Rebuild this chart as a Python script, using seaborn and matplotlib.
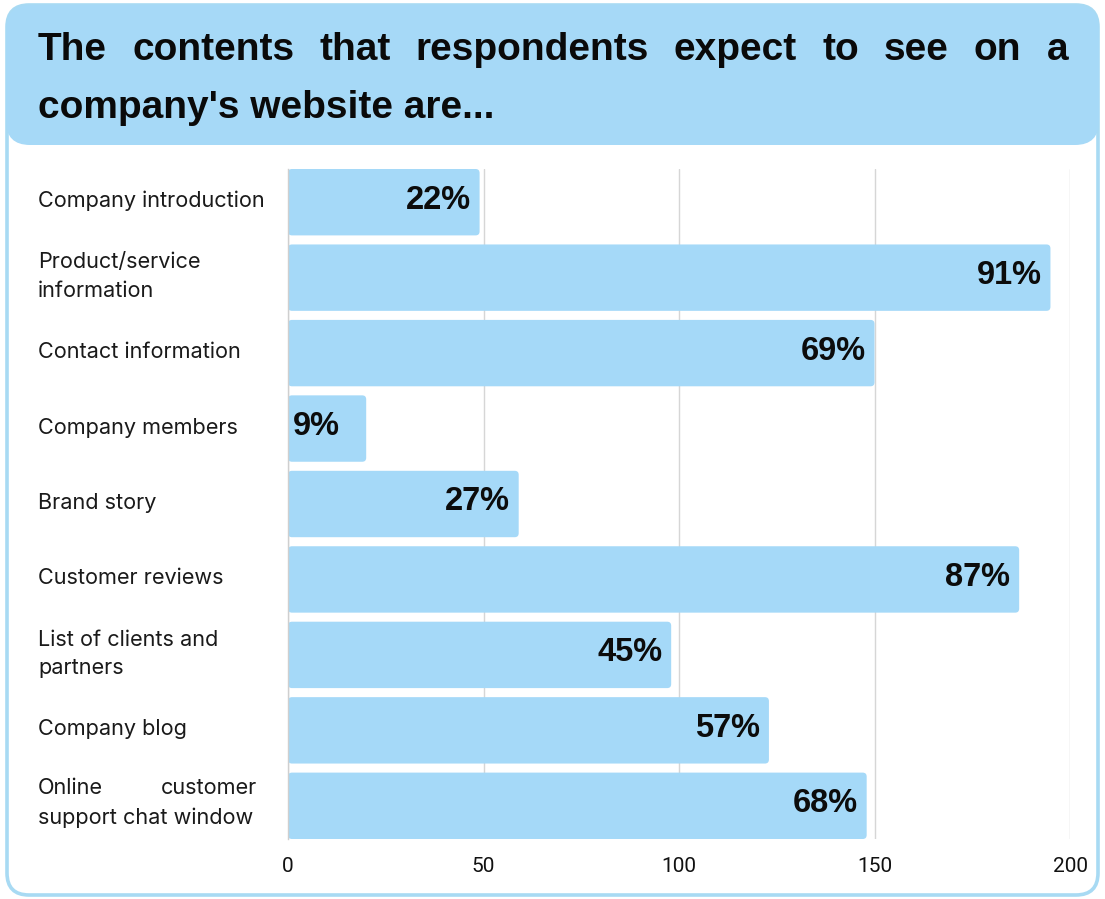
import matplotlib
matplotlib.use("Agg")
import matplotlib.pyplot as plt
import matplotlib.transforms as mtransforms
from matplotlib.patches import FancyBboxPatch
import pandas as pd
import seaborn as sns

# Survey items, respondent counts (bar length) and share labels
items = [
    "Company introduction",
    "Product/service\ninformation",
    "Contact information",
    "Company members",
    "Brand story",
    "Customer reviews",
    "List of clients and\npartners",
    "Company blog",
    "Online customer\nsupport chat window",
]
counts = [49, 195, 150, 20, 59, 187, 98, 123, 148]
shares = ["22%", "91%", "69%", "9%", "27%", "87%", "45%", "57%", "68%"]
x_ticks = [0, 50, 100, 150, 200]
title_lines = ["The contents that respondents expect to see on a",
               "company's website are..."]

BAR = "#A5D9F8"
HEAD = "#A6D9F7"
BORDER = "#A8DAF3"
GRID = "#D6D6D6"

sns.set_theme(style="white")
plt.rcParams["font.family"] = ["Inter", "DejaVu Sans"]

W, H = 1105, 899
fig = plt.figure(figsize=(W / 100, H / 100), dpi=100)
fig.patch.set_facecolor("white")
px = mtransforms.IdentityTransform()

# card outline and header band (pixel coordinates, origin bottom-left)
card = FancyBboxPatch((7, 4), W - 14, H - 9,
                      boxstyle="round,pad=0,rounding_size=22",
                      fc="white", ec=BORDER, lw=2.6, transform=px, zorder=-2)
header = FancyBboxPatch((6, H - 145), W - 12, 140,
                        boxstyle="round,pad=0,rounding_size=24",
                        fc=HEAD, ec="none", transform=px, zorder=-1)
fig.add_artist(card)
fig.add_artist(header)

ax = fig.add_axes([288 / W, (H - 839) / H, 782 / W, 670 / H])
ax.patch.set_visible(False)

df = pd.DataFrame({"item": items, "count": counts})
sns.barplot(data=df, x="count", y="item", orient="h", color=BAR,
            width=0.88, saturation=1, edgecolor="none", ax=ax)

n = len(items)
ax.set_xlim(0, 200)
ax.set_ylim(n - 1 + 0.44, -0.44)
ax.set_xticks(x_ticks)
ax.set_xticklabels([str(t) for t in x_ticks])
ax.set_xlabel("")
ax.set_ylabel("")
ax.set_yticks([])
ax.xaxis.grid(True, color=GRID, lw=1.0)
ax.set_axisbelow(True)
for side in ["top", "right", "bottom"]:
    ax.spines[side].set_visible(False)
ax.spines["left"].set_color("#CFCFCF")
ax.spines["left"].set_linewidth(1.0)
ax.tick_params(axis="x", length=0, pad=13, labelsize=15, labelcolor="#111111")
for t in ax.get_xticklabels():
    t.set_family(["Roboto", "DejaVu Sans"])

# swap plain rectangles for slightly rounded ones
fig.canvas.draw()
x_px = ax.transData.transform((1, 0))[0] - ax.transData.transform((0, 0))[0]
y_px = abs(ax.transData.transform((0, 1))[1] - ax.transData.transform((0, 0))[1])
r_px = 4.0
rs = r_px / x_px
aspect = (r_px / y_px) / rs
for p in list(ax.patches):
    x0, y0, w, h = p.get_x(), p.get_y(), p.get_width(), p.get_height()
    rb = FancyBboxPatch((x0, y0), w, h,
                        boxstyle=f"round,pad=0,rounding_size={rs}",
                        mutation_aspect=aspect, fc=BAR, ec="none",
                        transform=ax.transData, zorder=2)
    p.remove()
    ax.add_patch(rb)

# value labels
val_kw = dict(va="center", fontsize=23.5, fontweight="bold",
              family=["Liberation Sans", "DejaVu Sans"], color="#0c0c0c", zorder=3)
for i, (c, s) in enumerate(zip(counts, shares)):
    if c < 30:
        ax.annotate(s, (0, i), xytext=(5, 2), textcoords="offset pixels",
                    ha="left", **val_kw)
    else:
        ax.annotate(s, (c, i), xytext=(-9, 2), textcoords="offset pixels",
                    ha="right", **val_kw)

renderer = fig.canvas.get_renderer()


def justified(words, x0, x1, y, transform, **kw):
    """Place words so the line spans exactly x0..x1 (pixel x)."""
    arts = [fig.text(0, 0, w_, transform=transform, **kw) for w_ in words]
    widths = [a.get_window_extent(renderer).width for a in arts]
    gap = (x1 - x0 - sum(widths)) / (len(words) - 1)
    x = x0
    for a, wd in zip(arts, widths):
        a.set_position((x, y))
        x += wd + gap


# category labels, left aligned in the margin
blend = mtransforms.blended_transform_factory(px, ax.transData)
label_kw = dict(fontsize=15.6, color="#1a1a1a", ha="left", va="center")
for i, lab in enumerate(items):
    lines = lab.split("\n")
    yc = ax.transData.transform((0, i))[1]
    if lab.startswith("Online"):
        # first line set justified to the column width
        justified(lines[0].split(), 38, 257, yc + 18, px, **label_kw)
        fig.text(38, yc - 12, lines[1], transform=px, **label_kw)
    else:
        ax.text(38, i, lab, linespacing=1.55,
                transform=blend + mtransforms.ScaledTranslation(0, 1 / 100, fig.dpi_scale_trans),
                **label_kw)

# title: first line justified across the header, second line left
title_kw = dict(fontsize=28, fontweight="bold", color="#0a0a0a",
                family=["Liberation Sans", "DejaVu Sans"], va="baseline", ha="left")
justified(title_lines[0].split(), 38, 1068, H - 60, px, **title_kw)
fig.text(38, H - 118, title_lines[1], transform=px, **title_kw)

fig.savefig("out.png", dpi=100, facecolor="white")
